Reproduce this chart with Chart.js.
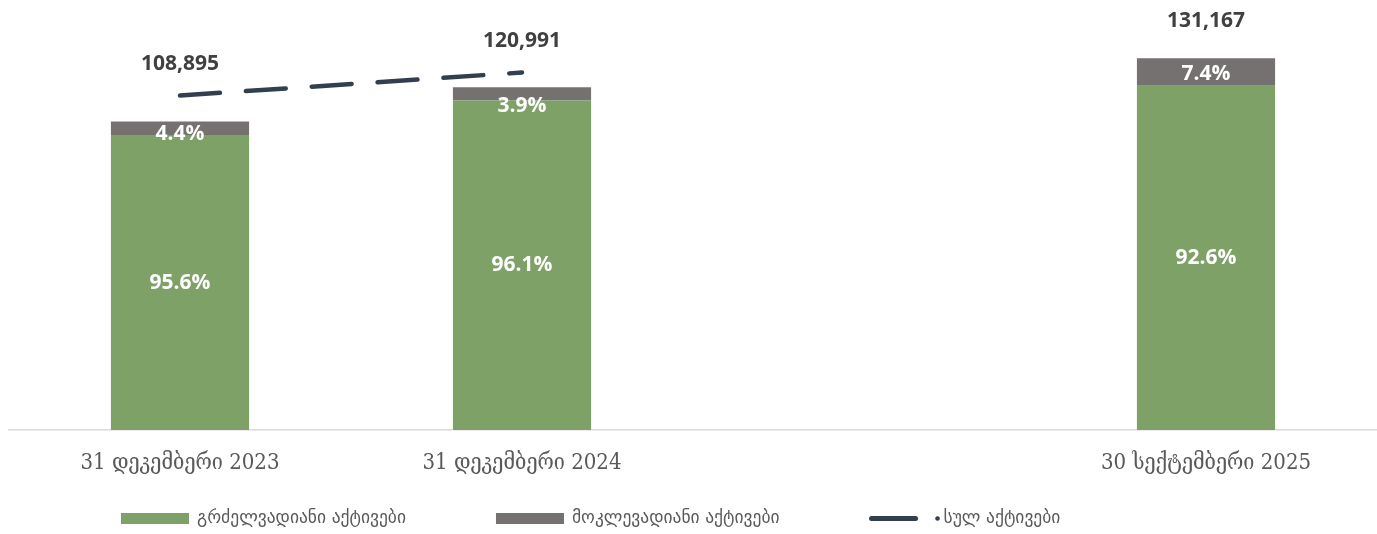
<!DOCTYPE html>
<html>
<head>
<meta charset="utf-8">
<script src="https://cdn.jsdelivr.net/npm/chart.js@4.4.1/dist/chart.umd.min.js"></script>
<style>
    html, body { margin: 0; padding: 0; background: #ffffff; }
    #wrap { width: 1377px; height: 534px; position: relative; }
</style>
</head>
<body>
<div id="wrap"><canvas id="assets-chart"></canvas></div>
<script>
// Categories (third slot is an empty gap in the original)
const categories = ['31 დეკემბერი 2023', '31 დეკემბერი 2024', '', '30 სექტემბერი 2025'];

// Total assets
const totalAssets = [108895, 120991, null, 131167];

// Shares of total, %
const longTermShare = [95.6, 96.1, null, 92.6];
const shortTermShare = [4.4, 3.9, null, 7.4];

const seriesNames = ['გრძელვადიანი აქტივები', 'მოკლევადიანი აქტივები', 'სულ აქტივები'];

// Colors
const GREEN = '#7DA166';
const GREY = '#767171';
const NAVY = '#323F4F';
const LABEL_DARK = '#404040';
const AXIS_TEXT = '#595959';

// Bar heights come from total * share
const longTermValues = totalAssets.map((t, i) => t === null ? null : t * longTermShare[i] / 100);
const shortTermValues = totalAssets.map((t, i) => t === null ? null : t * shortTermShare[i] / 100);

// Small nudges for the grey labels (they sit low like in the original)
const greyLabelShift = [6, 12, 0, 2];

const fmtThousands = (v) => new Intl.NumberFormat('en-US').format(v);
const fmtPct = (v) => v.toFixed(1) + '%';

// Draw value labels on bars and above the line
const valueLabels = {
    id: 'valueLabels',
    afterDatasetsDraw(chart) {
        const ctx = chart.ctx;
        ctx.save();
        ctx.textAlign = 'center';
        ctx.textBaseline = 'middle';
        ctx.font = 'bold 21px "Open Sans", sans-serif';

        // long-term (green)
        chart.getDatasetMeta(0).data.forEach((bar, i) => {
            if (longTermShare[i] === null) return;
            ctx.fillStyle = '#ffffff';
            ctx.fillText(fmtPct(longTermShare[i]), bar.x, (bar.y + bar.base) / 2);
        });

        // short-term (grey)
        chart.getDatasetMeta(1).data.forEach((bar, i) => {
            if (shortTermShare[i] === null) return;
            ctx.fillStyle = '#ffffff';
            ctx.fillText(fmtPct(shortTermShare[i]), bar.x, (bar.y + bar.base) / 2 + greyLabelShift[i]);
        });

        // totals
        chart.getDatasetMeta(2).data.forEach((pt, i) => {
            if (totalAssets[i] === null) return;
            ctx.fillStyle = LABEL_DARK;
            ctx.fillText(fmtThousands(totalAssets[i]), pt.x, pt.y - 32);
        });
        ctx.restore();
    }
};

// Legend row at the bottom, laid out like the original
const bottomLegend = {
    id: 'bottomLegend',
    afterDraw(chart) {
        const ctx = chart.ctx;
        const y = 518.5;
        let x = 121;
        ctx.save();
        ctx.font = '17.5px "DejaVu Sans", sans-serif';
        ctx.textBaseline = 'middle';
        ctx.textAlign = 'left';

        chart.data.datasets.forEach((ds) => {
            if (ds.type === 'line') {
                ctx.strokeStyle = ds.borderColor;
                ctx.lineWidth = 5;
                ctx.lineCap = 'round';
                ctx.beginPath();
                ctx.moveTo(x + 2, y);
                ctx.lineTo(x + 46, y);
                ctx.stroke();
                ctx.fillStyle = ds.borderColor;
                ctx.beginPath();
                ctx.arc(x + 68, y, 2.3, 0, Math.PI * 2);
                ctx.fill();
                ctx.fillStyle = AXIS_TEXT;
                ctx.fillText(ds.label, x + 74, y);
                x += 74 + ctx.measureText(ds.label).width + 90;
            } else {
                ctx.fillStyle = ds.backgroundColor;
                ctx.fillRect(x, y - 5.5, 68, 11);
                ctx.fillStyle = AXIS_TEXT;
                ctx.fillText(ds.label, x + 76, y);
                x += 76 + ctx.measureText(ds.label).width + 90;
            }
        });
        ctx.restore();
    }
};

new Chart(document.getElementById('assets-chart').getContext('2d'), {
    type: 'bar',
    data: {
        labels: categories,
        datasets: [
            {
                label: seriesNames[0],
                data: longTermValues,
                backgroundColor: GREEN,
                stack: 'assets',
                order: 2,
                barPercentage: 0.404,
                categoryPercentage: 1.0
            },
            {
                label: seriesNames[1],
                data: shortTermValues,
                backgroundColor: GREY,
                stack: 'assets',
                order: 2,
                barPercentage: 0.404,
                categoryPercentage: 1.0
            },
            {
                type: 'line',
                label: seriesNames[2],
                data: totalAssets,
                yAxisID: 'y2',
                borderColor: NAVY,
                backgroundColor: NAVY,
                borderWidth: 4.5,
                borderDash: [40, 26],
                borderCapStyle: 'round',
                pointRadius: 0,
                pointHoverRadius: 0,
                spanGaps: false,
                fill: false,
                tension: 0,
                order: 1
            }
        ]
    },
    options: {
        responsive: true,
        maintainAspectRatio: false,
        animation: false,
        layout: {
            padding: { left: 9, right: 0, top: 5, bottom: 0 }
        },
        plugins: {
            legend: { display: false },
            tooltip: { enabled: false }
        },
        scales: {
            x: {
                stacked: true,
                grid: { display: false },
                border: { display: true, color: '#D9D9D9', width: 1.5 },
                ticks: {
                    color: AXIS_TEXT,
                    padding: 12,
                    font: { family: '"DejaVu Serif Condensed", "DejaVu Serif", serif', size: 22 },
                    maxRotation: 0,
                    autoSkip: false
                },
                afterFit(scale) {
                    scale.height = 104;
                }
            },
            y: {
                display: false,
                stacked: true,
                min: 0,
                max: 150000
            },
            y2: {
                display: false,
                position: 'right',
                min: -67000,
                max: 156500
            }
        }
    },
    plugins: [valueLabels, bottomLegend]
});
</script>
</body>
</html>
